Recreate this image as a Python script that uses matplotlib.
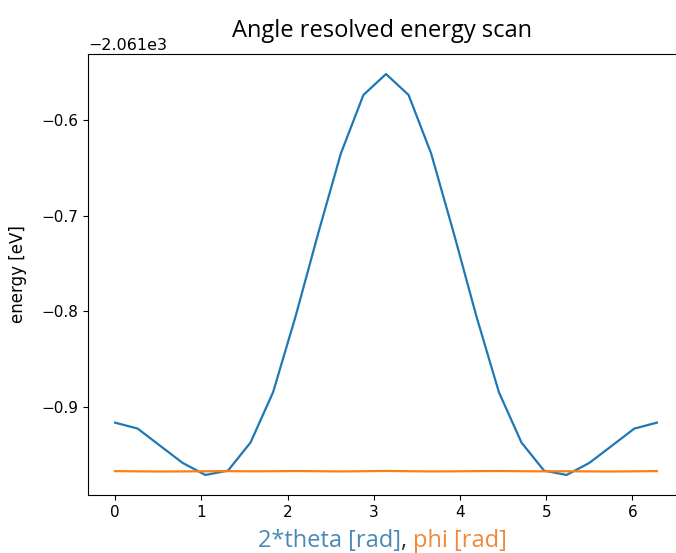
import numpy as np
import matplotlib
matplotlib.use('Agg')
import matplotlib.pyplot as plt

# scan angles, 25 steps over a full turn
n_steps = 25
angles = np.linspace(0, 2 * np.pi, n_steps)

# energies, relative to -2061 eV
e_theta = [-0.9167, -0.9229, -0.9410, -0.9590, -0.9715, -0.9670, -0.9375,
           -0.8847, -0.8049, -0.7180, -0.6347, -0.5733, -0.5514, -0.5733,
           -0.6347, -0.7180, -0.8049, -0.8847, -0.9375, -0.9670, -0.9715,
           -0.9590, -0.9410, -0.9229, -0.9167]
e_phi = [-0.9675, -0.9677, -0.9679, -0.9678, -0.9676, -0.9675, -0.9677,
         -0.9676, -0.9674, -0.9676, -0.9678, -0.9676, -0.9673, -0.9676,
         -0.9678, -0.9677, -0.9675, -0.9674, -0.9676, -0.9677, -0.9676,
         -0.9678, -0.9679, -0.9677, -0.9675]
offset = -2061.0

e_theta = np.array(e_theta) + offset
e_phi = np.array(e_phi) + offset

plt.rcParams['font.size'] = 11

W, H = 676, 553
fig = plt.figure(figsize=(W / 100, H / 100), dpi=100)
# right spine sits just past the image edge in the reference
ax = fig.add_axes([88 / W, 1 - 495 / H, (684 - 88) / W, (495 - 54) / H])

ax.plot(angles, e_theta, color='#1f77b4', lw=1.6)
ax.plot(angles, e_phi, color='#ff7f0e', lw=1.6)

ax.tick_params(labelsize=11)
ax.yaxis.get_offset_text().set_fontsize(11.5)
ax.set_ylabel('energy [eV]', fontsize=12, labelpad=10)

fig.text(382 / W, 1 - 37 / H, 'Angle resolved energy scan', fontsize=17,
         family='Open Sans', ha='center', va='baseline')

# two-coloured x label, pieces laid side by side on one baseline
fig.canvas.draw()
r = fig.canvas.get_renderer()
y_base = 1 - 547 / H
parts = [('2*theta [rad]', '#4a88b8'), (', ', '#333333'), ('phi [rad]', '#f0883a')]
x = 258
for s, c in parts:
    t = fig.text(x / W, y_base, s, fontsize=17, family='Open Sans',
                 color=c, ha='left', va='baseline')
    x = t.get_window_extent(r).x1

fig.savefig('out.png', dpi=100)
